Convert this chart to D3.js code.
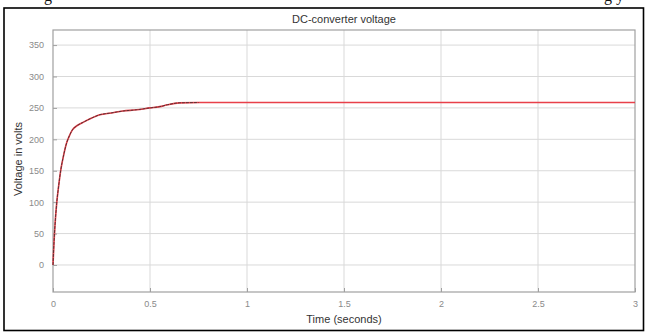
<!DOCTYPE html>
<html>
<head>
<meta charset="utf-8">
<script src="https://cdn.jsdelivr.net/npm/d3@7"></script>
<style>
  html, body { margin: 0; padding: 0; background: #fff; }
  svg { display: block; }
</style>
</head>
<body>
<svg id="chart" width="645" height="332"></svg>
<script>
// Converter output voltage (V) against simulation time (s)
const timeS    = [0, 0.005, 0.01, 0.019, 0.03, 0.04, 0.055, 0.07, 0.085, 0.1, 0.125, 0.155, 0.2, 0.24, 0.3, 0.36, 0.43, 0.5, 0.55, 0.59, 0.65, 0.75, 1, 1.5, 2, 2.5, 3];
const voltageV = [0, 35, 62, 98, 128, 151, 175, 194, 206, 215, 222, 227, 234, 239, 242, 245, 247, 250, 252, 255, 258, 258.5, 258.5, 258.5, 258.5, 258.5, 258.5];
// measured trace is logged only for the first part of the run
const measuredEnd = 0.75;

const xTicks = [0, 0.5, 1, 1.5, 2, 2.5, 3];
const xTickLabels = ["0", "0.5", "1", "1.5", "2", "2.5", "3"];
const yTicks = [0, 50, 100, 150, 200, 250, 300, 350];
const yTickLabels = ["0", "50", "100", "150", "200", "250", "300", "350"];

const svg = d3.select("#chart");
const plot = { left: 53, right: 635, top: 30, bottom: 292 };

const x = d3.scaleLinear().domain([0, 3]).range([plot.left, plot.right]);
const y = d3.scaleLinear().domain([-43, 374]).range([plot.bottom, plot.top]);

// page text just above the figure (only its lower part shows)
svg.append("text").attr("x", 44).attr("y", 1).attr("font-family", "Liberation Serif")
  .attr("font-size", 16).attr("fill", "#111").text("g");
svg.append("text").attr("x", 604).attr("y", 1).attr("font-family", "Liberation Serif")
  .attr("font-size", 16).attr("fill", "#111").text("g y");

// figure frame
svg.append("rect").attr("x", 4).attr("y", 8).attr("width", 639.5).attr("height", 322.5)
  .attr("fill", "none").attr("stroke", "#000").attr("stroke-width", 1.6);

// grid
const grid = svg.append("g").attr("stroke", "#d9d9d9").attr("stroke-width", 1);
grid.selectAll("line.gx").data(xTicks.slice(1, -1)).join("line")
  .attr("x1", d => x(d)).attr("x2", d => x(d))
  .attr("y1", plot.top).attr("y2", plot.bottom);
grid.selectAll("line.gy").data(yTicks).join("line")
  .attr("x1", plot.left).attr("x2", plot.right)
  .attr("y1", d => y(d)).attr("y2", d => y(d));

// axes with inward ticks
const axisColor = "#a0a0a0";
const xAxis = svg.append("g").attr("transform", `translate(0,${plot.bottom})`)
  .call(d3.axisBottom(x).tickValues(xTicks).tickFormat((d, i) => xTickLabels[i]).tickSize(-4).tickPadding(9));
const yAxis = svg.append("g").attr("transform", `translate(${plot.left},0)`)
  .call(d3.axisLeft(y).tickValues(yTicks).tickFormat((d, i) => yTickLabels[i]).tickSize(-4).tickPadding(9));
[xAxis, yAxis].forEach(a => {
  a.select(".domain").remove();
  a.selectAll(".tick line").attr("stroke", axisColor);
  a.selectAll(".tick text").attr("fill", "#8a8a8a").attr("font-family", "Liberation Sans").attr("font-size", 9);
});

// box
svg.append("rect").attr("x", plot.left).attr("y", plot.top)
  .attr("width", plot.right - plot.left).attr("height", plot.bottom - plot.top)
  .attr("fill", "none").attr("stroke", axisColor).attr("stroke-width", 1.2);

// traces
const line = d3.line().x((d, i) => x(d[0])).y(d => y(d[1])).curve(d3.curveMonotoneX);
const pts = timeS.map((t, i) => [t, voltageV[i]]);
svg.append("path").datum(pts).attr("d", line)
  .attr("fill", "none").attr("stroke", "#e8404a").attr("stroke-width", 1.6);
svg.append("path").datum(pts.filter(p => p[0] <= measuredEnd)).attr("d", line)
  .attr("fill", "none").attr("stroke", "#3a2a2a").attr("stroke-width", 1)
  .attr("stroke-dasharray", "3,1").attr("opacity", 0.8);

// labels
svg.append("text").attr("x", (plot.left + plot.right) / 2).attr("y", 23)
  .attr("text-anchor", "middle").attr("font-family", "Liberation Sans").attr("font-size", 11)
  .attr("fill", "#333").text("DC-converter voltage");
svg.append("text").attr("x", (plot.left + plot.right) / 2).attr("y", 323)
  .attr("text-anchor", "middle").attr("font-family", "Liberation Sans").attr("font-size", 11)
  .attr("fill", "#333").text("Time (seconds)");
svg.append("text").attr("transform", `translate(22,${(plot.top + plot.bottom) / 2 - 2}) rotate(-90)`)
  .attr("text-anchor", "middle").attr("font-family", "Liberation Sans").attr("font-size", 11)
  .attr("fill", "#333").text("Voltage in volts");
</script>
</body>
</html>
